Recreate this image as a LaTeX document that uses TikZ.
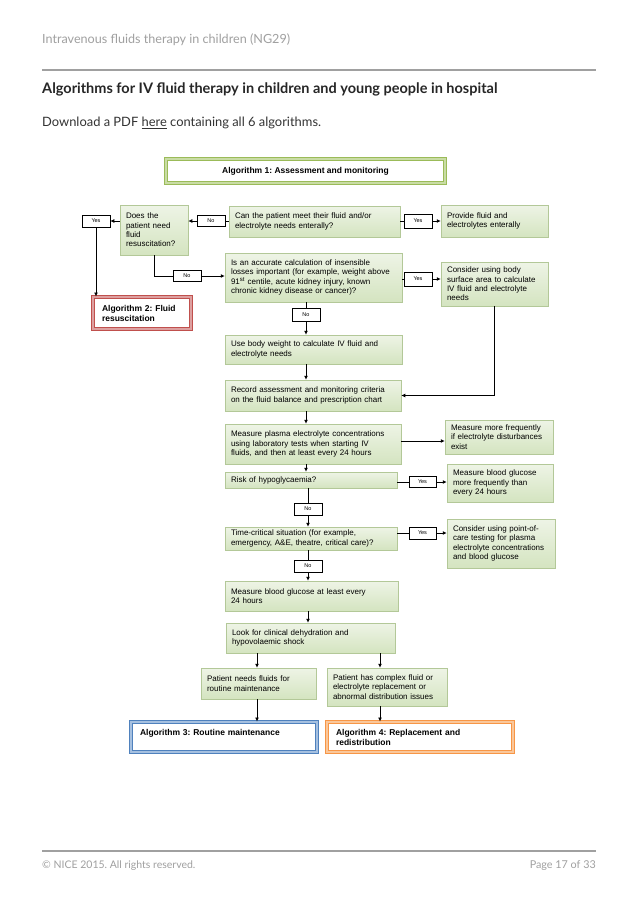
\documentclass[tikz,border=0pt]{standalone}
\usepackage{fontspec}
\setmainfont{Lato}
\newfontfamily\arialf{Liberation Sans}
\usetikzlibrary{arrows.meta,shadows}
\frenchspacing
\definecolor{gtop}{HTML}{EEF4E6}
\definecolor{gbot}{HTML}{D4E4C0}
\definecolor{gline}{HTML}{B3C898}
\definecolor{gdark}{HTML}{9BBB59}
\definecolor{glight}{HTML}{C9DCA5}
\definecolor{rdark}{HTML}{C0504D}
\definecolor{rlight}{HTML}{DDA0A0}
\definecolor{bdark}{HTML}{4F81BD}
\definecolor{blight}{HTML}{A5C0E0}
\definecolor{odark}{HTML}{F79646}
\definecolor{olight}{HTML}{FAC79A}
\definecolor{hgray}{HTML}{A0A0A0}
\begin{document}
\begin{tikzpicture}[x=1pt,y=-1pt,
  gbox/.style={draw=gline, line width=0.5pt, top color=gtop, bottom color=gbot,
    drop shadow={shadow xshift=1.2pt, shadow yshift=-1.2pt, opacity=0.25, fill=black!70},
    inner xsep=6pt, inner ysep=0pt, align=left, font=\arialf\fontsize{8}{9.4}\selectfont},
  lbl/.style={draw=black, line width=0.6pt, fill=white, minimum width=28pt, minimum height=12pt,
    inner sep=0pt, font=\arialf\fontsize{5.5}{6}\selectfont},
  abox/.style={line width=1pt, double distance=2pt, fill=white, inner xsep=9pt, inner ysep=0pt,
    align=left, font=\arialf\bfseries\fontsize{8.5}{10}\selectfont},
  arr/.style={draw=black, line width=0.8pt, -{Latex[length=4pt,width=4pt]}},
  htext/.style={anchor=west, inner sep=0pt}
]
\fill[white] (0,0) rectangle (638,903);
\useasboundingbox (0,0) rectangle (638,903);

% header and footer
\node[htext, text=hgray, font=\fontsize{12.6}{14}\selectfont] (hdr) at (42,40) {Intravenous fluids therapy in children (NG29)};
\coordinate (hl1) at (42,70); \coordinate (hl2) at (596,70);
\draw[hgray, line width=1.5pt] (hl1) -- (hl2);
\node[htext, text=black!85, font=\bfseries\fontsize{14.5}{16}\selectfont] (ttl) at (42,89) {Algorithms for IV fluid therapy in children and young people in hospital};
\node[htext, text=black!80, font=\fontsize{12.9}{14}\selectfont] (dl) at (42,123) {Download a PDF \underline{here} containing all 6 algorithms.};
\coordinate (fl1) at (42,851); \coordinate (fl2) at (596,851);
\draw[hgray, line width=1.5pt] (fl1) -- (fl2);
\node[htext, text=hgray, font=\fontsize{10.5}{12}\selectfont] (ftl) at (42,866) {© NICE 2015. All rights reserved.};
\node[anchor=east, inner sep=0pt, text=hgray, font=\fontsize{10.8}{12}\selectfont] (ftr) at (596,866) {Page 17 of 33};

% algorithm boxes
\node[abox, draw=gdark, double=glight, minimum width=279pt, minimum height=24pt, align=center] (title) at (305.5,171) {Algorithm 1: Assessment and monitoring};
\node[abox, draw=rdark, double=rlight, minimum width=98pt, minimum height=32pt, text width=80pt] (alg2) at (142,313) {Algorithm 2: Fluid\\resuscitation};
\node[abox, draw=bdark, double=blight, minimum width=186pt, minimum height=30pt, text width=168pt] (alg3) at (224,737) {Algorithm 3: Routine maintenance\\\mbox{}};
\node[abox, draw=odark, double=olight, minimum width=186pt, minimum height=30pt, text width=168pt] (alg4) at (420,737) {Algorithm 4: Replacement and\\redistribution};

% green boxes
\node[gbox, minimum width=68pt, minimum height=50pt, text width=56pt] (does) at (154,230) {Does the\\patient need\\fluid\\resuscitation?};
\node[gbox, minimum width=171pt, minimum height=31pt, text width=159pt] (can) at (314.5,221.5) {Can the patient meet their fluid and/or\\electrolyte needs enterally?};
\node[gbox, minimum width=107pt, minimum height=32pt, text width=95pt] (provide) at (494.5,221) {Provide fluid and\\electrolytes enterally};
\node[gbox, minimum width=177pt, minimum height=49pt, text width=165pt] (ins) at (313.5,277.5) {Is an accurate calculation of insensible\\losses important (for example, weight above\\91\textsuperscript{st} centile, acute kidney injury, known\\chronic kidney disease or cancer)?};
\node[gbox, minimum width=107pt, minimum height=44pt, text width=95pt] (bsa) at (494.5,284) {Consider using body\\surface area to calculate\\IV fluid and electrolyte\\needs};
\node[gbox, minimum width=177pt, minimum height=29pt, text width=165pt] (usebw) at (313.5,349.5) {Use body weight to calculate IV fluid and\\electrolyte needs};
\node[gbox, minimum width=176pt, minimum height=31pt, text width=164pt] (record) at (313,395.5) {Record assessment and monitoring criteria\\on the fluid balance and prescription chart};
\node[gbox, minimum width=176pt, minimum height=40pt, text width=164pt] (plasma) at (313,444) {Measure plasma electrolyte concentrations\\using laboratory tests when starting IV\\fluids, and then at least every 24 hours};
\node[gbox, minimum width=108pt, minimum height=34pt, text width=96pt] (freq) at (499,437) {Measure more frequently\\if electrolyte disturbances\\exist};
\node[gbox, minimum width=172pt, minimum height=16pt, text width=160pt] (risk) at (311,480) {Risk of hypoglycaemia?};
\node[gbox, minimum width=106pt, minimum height=38pt, text width=94pt] (gluc) at (500,483) {Measure blood glucose\\more frequently than\\every 24 hours};
\node[gbox, minimum width=172pt, minimum height=23pt, text width=160pt] (time) at (311,538.5) {Time-critical situation (for example,\\emergency, A\&E, theatre, critical care)?};
\node[gbox, minimum width=108pt, minimum height=49pt, text width=96pt] (poc) at (501,543.5) {Consider using point-of-\\care testing for plasma\\electrolyte concentrations\\and blood glucose};
\node[gbox, minimum width=173pt, minimum height=30pt, text width=161pt] (mbg) at (311.5,596) {Measure blood glucose at least every\\24 hours};
\node[gbox, minimum width=169pt, minimum height=30pt, text width=157pt] (look) at (310.5,638) {Look for clinical dehydration and\\hypovolaemic shock};
\node[gbox, minimum width=115pt, minimum height=31pt, text width=103pt] (routine) at (258.5,683.5) {Patient needs fluids for\\routine maintenance};
\node[gbox, minimum width=120pt, minimum height=38pt, text width=108pt] (complex) at (387,687) {Patient has complex fluid or\\electrolyte replacement or\\abnormal distribution issues};

% labels
\node[lbl] (yes1) at (96,221) {Yes};
\node[lbl, minimum height=11pt] (no1) at (211,221) {No};
\node[lbl, minimum height=14pt] (yes2) at (418,221) {Yes};
\node[lbl, minimum height=11pt] (no2) at (187,276) {No};
\node[lbl, minimum height=14pt] (yes3) at (418,279) {Yes};
\node[lbl, minimum height=13pt] (no3) at (306,314.5) {No};
\node[lbl, minimum width=27pt, minimum height=11pt] (yes4) at (422.5,482) {Yes};
\node[lbl] (no4) at (308,509) {No};
\node[lbl, minimum width=27pt] (yes5) at (422.5,533) {Yes};
\node[lbl] (no5) at (308,566) {No};

\coordinate (rowF) at (0,441);
\coordinate (colR) at (257,0);
\coordinate (colC) at (380,0);

% connectors
\draw[arr] (can.west |- no1) -- (no1) -- (does.east |- no1);
\draw[arr] (does.west |- yes1) -- (yes1);
\draw[arr] (yes1) -- (alg2.north -| yes1);
\draw[arr] (can.east |- yes2) -- (yes2) -- (provide.west |- yes2);
\draw[arr] (does.south) |- (no2) -- (ins.west |- no2);
\draw[arr] (ins.east |- yes3) -- (yes3) -- (bsa.west |- yes3);
\draw[arr] (ins.south -| no3) -- (no3) -- (usebw.north -| no3);
\draw[arr] (usebw.south -| no3) -- (record.north -| no3);
\draw[arr] (bsa.south) |- (record.east);
\draw[arr] (record.south -| no3) -- (plasma.north -| no3);
\draw[arr] (plasma.east |- rowF) -- (freq.west |- rowF);
\draw[arr] (plasma.south -| no3) -- (risk.north -| no3);
\draw[arr] (risk.east |- yes4) -- (yes4) -- (gluc.west |- yes4);
\draw[arr] (risk.south -| no4) -- (no4) -- (time.north -| no4);
\draw[arr] (time.east |- yes5) -- (yes5) -- (poc.west |- yes5);
\draw[arr] (time.south -| no5) -- (no5) -- (mbg.north -| no5);
\draw[arr] (mbg.south -| no5) -- (look.north -| no5);
\draw[arr] (look.south -| colR) -- (routine.north -| colR);
\draw[arr] (look.south -| colC) -- (complex.north -| colC);
\draw[arr] (routine.south -| colR) -- (alg3.north -| colR);
\draw[arr] (complex.south -| colC) -- (alg4.north -| colC);
\end{tikzpicture}
\end{document}
